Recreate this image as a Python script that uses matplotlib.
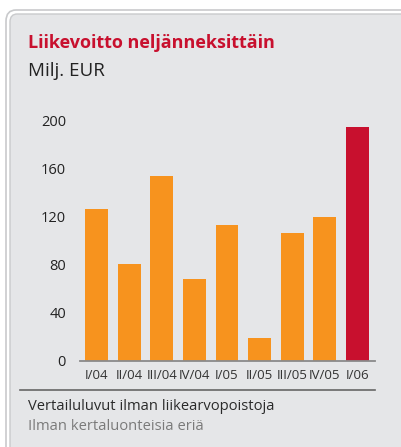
import matplotlib
matplotlib.use("Agg")
import matplotlib.pyplot as plt
from matplotlib.patches import FancyBboxPatch
from matplotlib.lines import Line2D

quarters = ["I/04", "II/04", "III/04", "IV/04", "I/05", "II/05", "III/05", "IV/05", "I/06"]
profit = [127, 81, 154, 68, 113, 19, 107, 120, 195]
bar_colors = ["#f7931e"] * 8 + ["#c8102e"]
y_ticks = [0, 40, 80, 120, 160, 200]

W, H = 401, 447
fig = plt.figure(figsize=(W / 100, H / 100), dpi=100)
fig.patch.set_facecolor("white")
plt.rcParams["font.family"] = ["Open Sans", "DejaVu Sans"]

def fx(px):
    return px / W

def fy(py):
    return 1 - py / H

# panel with double light border and rounded corner
outer = FancyBboxPatch((fx(6), fy(470)), fx(420), fy(10) - fy(470),
                       boxstyle="round,pad=0,rounding_size=0.025",
                       transform=fig.transFigure, facecolor="white",
                       edgecolor="#c9cacc", linewidth=1.2, zorder=-2)
inner = FancyBboxPatch((fx(10), fy(470)), fx(420), fy(14) - fy(470),
                       boxstyle="round,pad=0,rounding_size=0.018",
                       transform=fig.transFigure, facecolor="#e5e6e8",
                       edgecolor="#c9cacc", linewidth=1.0, zorder=-1)
fig.patches.extend([outer, inner])

fig.text(fx(28), fy(43), "Liikevoitto neljänneksittäin", color="#c8102e",
         fontsize=13, fontweight="bold", va="center", ha="left")
fig.text(fx(28), fy(71), "Milj. EUR", color="#222222", fontsize=13.5,
         va="center", ha="left")

ax = fig.add_axes([fx(80), fy(361), fx(375) - fx(80), fy(121) - fy(361)])
ax.set_facecolor("none")
x = list(range(len(quarters)))
ax.bar(x, profit, width=0.7, color=bar_colors, zorder=2, clip_on=False)
ax.set_xlim(-0.51, 8.54)
ax.set_ylim(0, 200)
ax.set_yticks(y_ticks)
ax.set_yticklabels([str(v) for v in y_ticks], fontsize=10.5, color="#222222")
ax.set_xticks(x)
ax.set_xticklabels(quarters, fontsize=9.5, color="#333333")
ax.tick_params(axis="both", length=0)
ax.tick_params(axis="y", pad=10)
ax.tick_params(axis="x", pad=6)
for s in ["top", "right", "left"]:
    ax.spines[s].set_visible(False)
ax.spines["bottom"].set_color("#8a8a8a")
ax.spines["bottom"].set_linewidth(1.3)
ax.spines["bottom"].set_zorder(3)

fig.lines.append(Line2D([fx(20), fx(375)], [fy(390), fy(390)],
                        transform=fig.transFigure, color="#666666", linewidth=1.2))

fig.text(fx(28), fy(407), "Vertailuluvut ilman liikearvopoistoja", color="#2a2a2a",
         fontsize=10.6, va="center", ha="left")
fig.text(fx(28), fy(427), "Ilman kertaluonteisia eriä", color="#7a7a7a",
         fontsize=10.6, va="center", ha="left")

fig.savefig("out.png", dpi=100, facecolor="white")
